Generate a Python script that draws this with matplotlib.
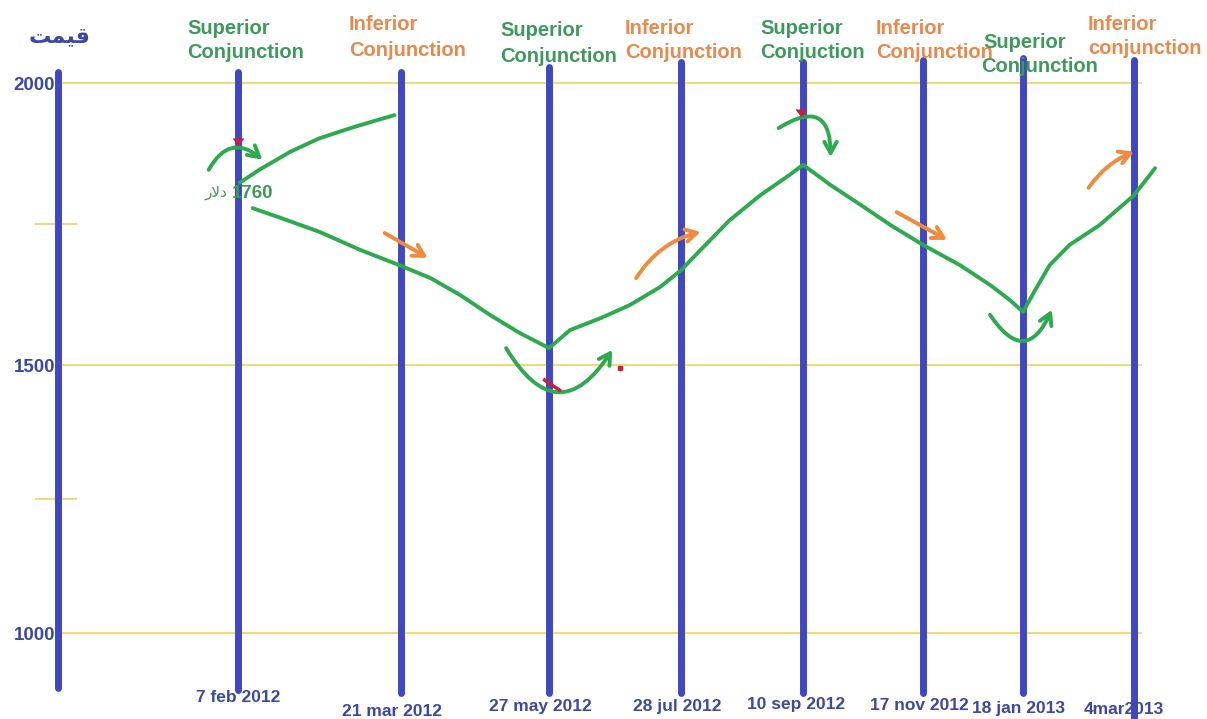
import matplotlib.pyplot as plt
import numpy as np

# ---- data ----
dates = ["7 feb 2012", "21 mar 2012", "27 may 2012", "28 jul 2012",
         "10 sep 2012", "17 nov 2012", "18 jan 2013", "4mar2013"]
event_kind = ["sup", "inf", "sup", "inf", "sup", "inf", "sup", "inf"]
event_word1 = ["Superior", "Inferior", "Superior", "Inferior",
               "Superior", "Inferior", "Superior", "Inferior"]
event_word2 = ["Conjunction", "Conjunction", "Conjunction", "Conjunction",
               "Conjuction", "Conjunction", "Conjunction", "conjunction"]
price_ticks = [1000, 1500, 2000]
minor_ticks = [1250, 1750]

# x is measured in "conjunction steps": 0 = 7 feb 2012, 1 = 21 mar 2012, ...
rise_x = [0.01, 0.13, 0.32, 0.50, 0.69, 0.84, 0.96]
rise_y = [1823, 1846, 1878, 1902, 1920, 1933, 1943]

price_x = [0.09, 0.26, 0.50, 0.75, 0.99, 1.20, 1.40, 1.60, 1.80, 2.00,
           2.16, 2.39, 2.61, 2.84, 3.00, 3.16, 3.40, 3.65, 3.89, 4.00,
           4.23, 4.48, 4.73, 5.00, 5.37, 5.67, 5.87, 6.00,
           6.11, 6.24, 6.42, 6.69, 7.00, 7.19]
price_y = [1778, 1761, 1736, 1704, 1677, 1654, 1624, 1589, 1557, 1530,
           1562, 1583, 1606, 1638, 1668, 1704, 1757, 1801, 1837, 1855,
           1819, 1784, 1748, 1713, 1677, 1642, 1615, 1594,
           1633, 1677, 1713, 1748, 1801, 1849]

# hand drawn arrows: (x0, y0, x1, y1, curvature)
green_arrows = [(-0.18, 1846, 0.15, 1864, -0.6),
                (1.71, 1530, 2.48, 1527, 0.8),
                (3.80, 1920, 4.23, 1869, -0.9),
                (5.67, 1589, 6.26, 1598, 0.9)]
orange_arrows = [(0.90, 1734, 1.18, 1690, 0.0),
                 (2.66, 1654, 3.16, 1736, -0.2),
                 (4.78, 1771, 5.24, 1722, 0.0),
                 (6.59, 1814, 7.00, 1878, -0.15)]
red_x = [0.0, 3.98]
red_y = [1890, 1941]

# ---- layout ----
W, H = 1207, 719
line_px = [238, 401, 549, 681, 803, 923, 1023, 1134]
price_px = [633, 365, 83]
line_top = [2020, 2020, 2028, 2037, 2037, 2041, 2044, 2041]
line_bot = [894, 888, 888, 888, 888, 888, 888, 840]
date_pos = [(238, 697), (392, 711), (540, 706), (677, 707),
            (796, 705), (919, 705), (1018, 709), (1124, 710)]
label_pos = [(187, 28, 187, 53), (349, 25, 349, 50), (500, 31, 500, 56),
             (625, 28, 625, 53), (760, 28, 760, 53), (876, 28, 876, 53),
             (983, 43, 981, 67), (1088, 24, 1088, 49)]

BLUE = "#3f48c0"
TXT_BLUE = "#3c48a4"
GREEN = "#2eaa4e"
GREEN_TXT = "#3d9a5b"
ORANGE = "#f08a3c"
ORANGE_TXT = "#e8894e"
YELLOW = "#f0d45c"
RED = "#c8203c"


def piecewise(xp, fp):
    xp = np.asarray(xp, float)
    fp = np.asarray(fp, float)
    s0 = (fp[1] - fp[0]) / (xp[1] - xp[0])
    s1 = (fp[-1] - fp[-2]) / (xp[-1] - xp[-2])

    def f(v):
        v = np.asarray(v, float)
        return np.where(v < xp[0], fp[0] + (v - xp[0]) * s0,
                        np.where(v > xp[-1], fp[-1] + (v - xp[-1]) * s1,
                                 np.interp(v, xp, fp)))
    return f


steps = np.arange(len(dates))
fx = piecewise(steps, line_px)
fx_inv = piecewise(line_px, steps)
fy = piecewise(price_ticks, [-p for p in price_px])
fy_inv = piecewise([-p for p in price_px], price_ticks)

fig = plt.figure(figsize=(W / 100, H / 100), dpi=100)
ax = fig.add_axes([0, 0, 1, 1])
ax.set_axis_off()
ax.set_xscale('function', functions=(fx, fx_inv))
ax.set_yscale('function', functions=(fy, fy_inv))
ax.set_xlim(float(fx_inv(0)), float(fx_inv(W)))
ax.set_ylim(float(fy_inv(-H)), float(fy_inv(0)))

left_axis = float(fx_inv(58))
right_end = float(fx_inv(1142))

# yellow price lines
ax.hlines(price_ticks, float(fx_inv(62)), right_end, color=YELLOW, lw=1.2, zorder=1)
ax.hlines(minor_ticks, float(fx_inv(35)), float(fx_inv(77)), color=YELLOW, lw=1.2, zorder=1)

# blue axis + conjunction lines
ax.plot([left_axis, left_axis], [2020, 897], color=BLUE, lw=5,
        solid_capstyle='round', zorder=2)
for i in steps:
    ax.plot([i, i], [line_bot[i], line_top[i]], color=BLUE, lw=5,
            solid_capstyle='round', zorder=2)

# price path
for xs, ys in [(rise_x, rise_y), (price_x, price_y)]:
    ax.plot(xs, ys, color=GREEN, lw=2.8, solid_capstyle='round',
            solid_joinstyle='round', zorder=4)

for arrows, col in [(green_arrows, GREEN), (orange_arrows, ORANGE)]:
    for x0, y0, x1, y1, rad in arrows:
        ax.annotate('', xy=(x1, y1), xytext=(x0, y0),
                    arrowprops=dict(arrowstyle='->,head_length=0.8,head_width=0.45',
                                    connectionstyle=f'arc3,rad={rad}',
                                    color=col, lw=2.8, shrinkA=0, shrinkB=0),
                    zorder=5)

ax.plot(red_x, red_y, ls='none', marker=7, color=RED, ms=7, zorder=6)
ax.plot([1.97, 2.08], [1472, 1453], color=RED, lw=2.5, zorder=6)
ax.plot([2.54], [1494], ls='none', marker='s', color=RED, ms=2.5, zorder=6)


def put(px, py, s, **kw):
    fig.text(px / W, 1 - py / H, s, va='center', **kw)


for p, ypx in zip(price_ticks, price_px):
    put(55, ypx + 2, str(p), ha='right', color=TXT_BLUE, fontsize=13.5,
        fontweight='bold', family=['Liberation Sans', 'DejaVu Sans'])

for d, (px, py) in zip(dates, date_pos):
    put(px, py, d, ha='center', color=TXT_BLUE, fontsize=12.5,
        fontweight='bold', family=['Liberation Sans', 'DejaVu Sans'])

for k, w1, w2, (x1, y1, x2, y2) in zip(event_kind, event_word1, event_word2, label_pos):
    c = GREEN_TXT if k == "sup" else ORANGE_TXT
    put(x1, y1, w1, ha='left', color=c, fontsize=14.5, fontweight='bold',
        family=['Liberation Sans', 'DejaVu Sans'])
    put(x2, y2, w2, ha='left', color=c, fontsize=14.5, fontweight='bold',
        family=['Liberation Sans', 'DejaVu Sans'])

# Persian texts (pre-shaped, visual order)
put(60, 36, "\ufe96\ufee4\ufef4\ufed7", ha='center', color=TXT_BLUE, fontsize=16,
    fontweight='bold', family=['DejaVu Sans'])
put(205, 193, "\ufead\ufefb\ufea9", ha='left', color=GREEN_TXT, fontsize=11,
    family=['DejaVu Sans'])
put(232, 193, "1760", ha='left', color=GREEN_TXT, fontsize=13.5, fontweight='bold',
    family=['Liberation Sans', 'DejaVu Sans'])

fig.savefig("out.png", dpi=100, facecolor="white")
